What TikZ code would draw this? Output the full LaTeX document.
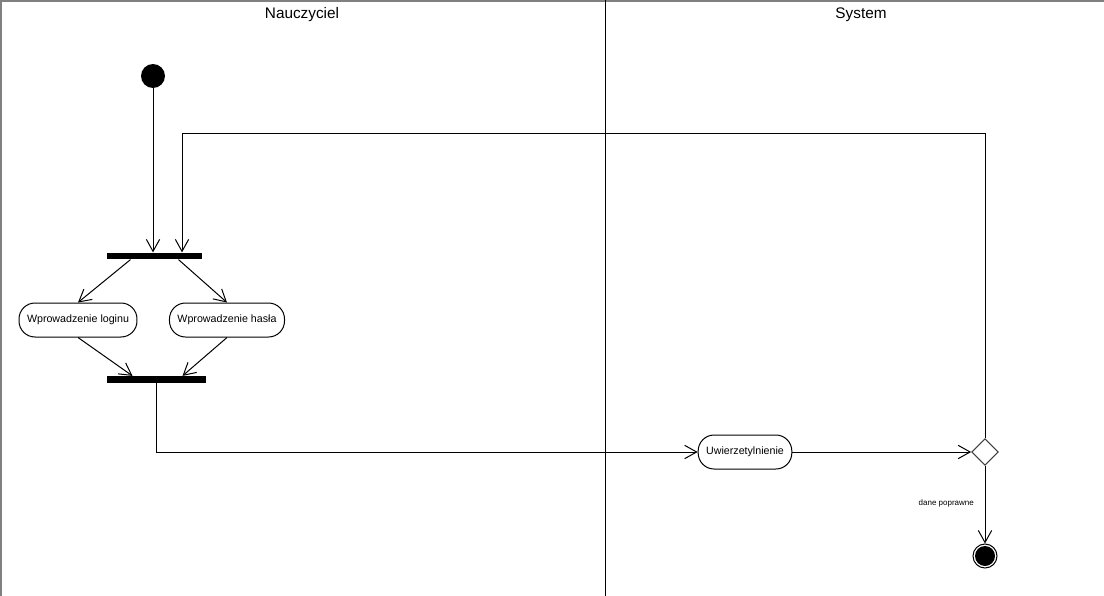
\documentclass[tikz,border=0pt]{standalone}
\usepackage{fontspec}
\setmainfont{Liberation Sans}
\usepackage{tikz}
\usetikzlibrary{arrows.meta, positioning, shapes.geometric, calc}
\tikzset{
    flow/.style={draw, line width=0.75pt, -{Straight Barb[length=9pt, width=10pt]}}, % przejscie
    activity/.style={draw, line width=0.75pt, rounded corners=12pt, minimum height=25.5pt, inner xsep=6pt, font=\fontsize{8}{9}\selectfont}, % akcja
    bar/.style={fill, inner sep=0pt, minimum height=5pt}, % rozwidlenie / zlaczenie
    lane title/.style={font=\fontsize{11.5}{13}\selectfont} % naglowek toru
}

\begin{document}
\begin{tikzpicture}[x=0.75pt, y=-0.75pt]
            \useasboundingbox (0,0) rectangle (1104,596);
            \def\laneX{605}

            % tory
            \draw[gray, line width=1.5pt] (0.75,596) -- (0.75,0.75) -- (1104,0.75);
            \draw[line width=0.75pt] (\laneX,0) -- (\laneX,596);
            \node[lane title] (tNauczyciel) at (302,15) {Nauczyciel};
            \node[lane title] (tSystem) at (861,15) {System};

            % wezly
            \node[circle, fill, minimum size=18pt, inner sep=0pt] (start) at (153,76) {};
            \node[bar, minimum width=71pt] (fork) at (154.5,256) {};
            \node[activity] (login) at (78,320) {Wprowadzenie loginu};
            \node[activity] (haslo) at (227,320) {Wprowadzenie hasła};
            \node[bar, minimum width=74pt] (join) at (156.5,379.5) {};
            \node[activity] (auth) at (745,452) {Uwierzetylnienie};
            \node[diamond, draw=black!75, line width=0.75pt, minimum size=20pt, inner sep=0pt] (dec) at (985,452) {};
            \node[circle, draw, line width=0.75pt, minimum size=18pt, inner sep=0pt,
                  path picture={\fill (path picture bounding box.center) circle (7.5pt);}] (end) at (985,556) {};
            \coordinate (loop) at (182,133);

            % przejscia
            \draw[flow] (start) -- (start |- fork.north);
            \draw[flow] (dec.north) |- (loop) -- (loop |- fork.north);
            \draw[flow] ($(fork.south)+(-24,0)$) -- (login.north);
            \draw[flow] ($(fork.south)+(24,0)$) -- (haslo.north);
            \draw[flow] (login.south) -- ($(join.north)+(-24,0)$);
            \draw[flow] (haslo.south) -- ($(join.north)+(26,0)$);
            \draw[flow] (join.south) |- (auth.west);
            \draw[flow] (auth.east) -- (dec.west);
            \draw[flow] (dec.south) -- node[pos=0.48, left=8pt, inner sep=0pt, font=\fontsize{6}{7}\selectfont] {dane poprawne} (end.north);
        \end{tikzpicture}
\end{document}
